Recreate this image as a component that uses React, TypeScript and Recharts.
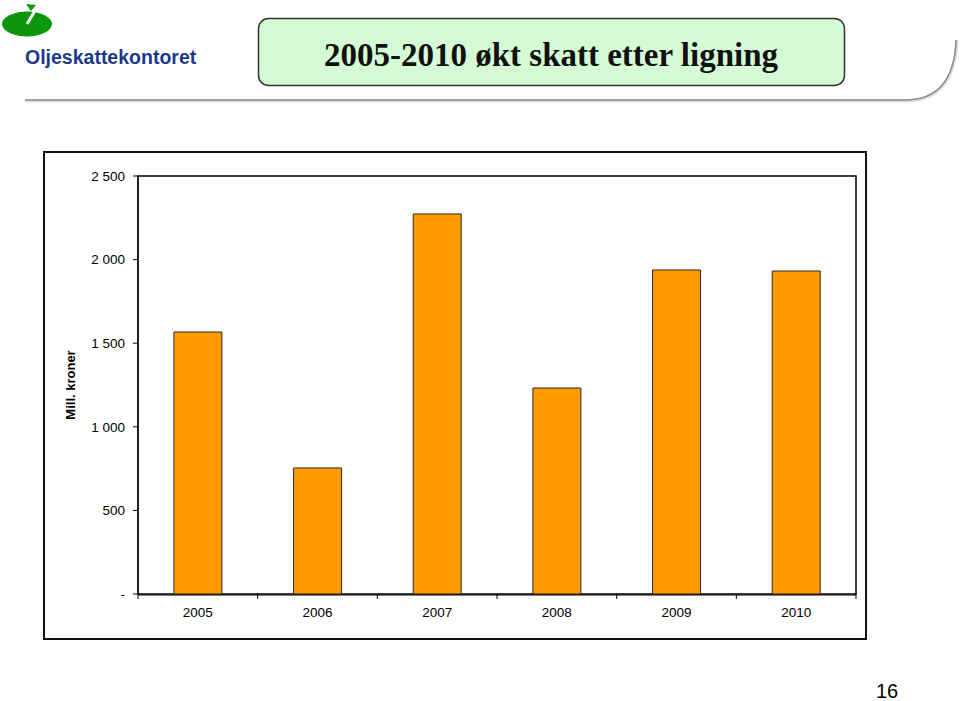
import React from 'react';
import {
  BarChart,
  Bar,
  XAxis,
  YAxis,
  ReferenceArea,
} from 'recharts';

const years = ['2005', '2006', '2007', '2008', '2009', '2010'];
const taxIncrease = [1567, 754, 2273, 1232, 1938, 1932];
const yTicks = [0, 500, 1000, 1500, 2000, 2500];
const bandTicks = [0, 1, 2, 3, 4, 5, 6];

const data = years.map((year, i) => ({ year, value: taxIncrease[i] }));

const fmt = (v: number) =>
  v === 0 ? '-' : String(v).replace(/\B(?=(\d{3})+(?!\d))/g, ' ');

const axisFont = { fontFamily: 'Arial, "Liberation Sans", sans-serif', fontSize: 13.5, fill: '#000' };

const NoLabel = () => <g />;

export default function App() {
  return (
    <div
      style={{
        position: 'absolute',
        left: 0,
        top: 0,
        width: 960,
        height: 701,
        background: '#fff',
        overflow: 'hidden',
      }}
    >
      {/* header decoration */}
      <svg width={960} height={701} style={{ position: 'absolute', left: 0, top: 0 }}>
        <ellipse cx={27} cy={24} rx={25} ry={12.5} fill="#0b960b" />
        <polygon points="26,4 36,5 31,11" fill="#0b960b" />
        <line x1={27} y1={24} x2={36} y2={9} stroke="#fff" strokeWidth={3} />
        <path d="M25,101 L905,101 Q955,101 957,40" fill="none" stroke="#ddd" strokeWidth={3} />
        <path d="M25,100 L905,100 Q954,100 956,40" fill="none" stroke="#8a8a8a" strokeWidth={1.5} />
        <rect x={258.5} y={18.5} width={586} height={67} rx={10} fill="#d5fbd5" stroke="#333" strokeWidth={1.5} />
        <text
          x={551}
          y={66}
          textAnchor="middle"
          fontFamily='"Liberation Serif", "Times New Roman", serif'
          fontWeight="bold"
          fontSize={33}
          fill="#111"
        >
          2005-2010 økt skatt etter ligning
        </text>
        <text
          x={25}
          y={64}
          fontFamily='Arial, "Liberation Sans", sans-serif'
          fontWeight="bold"
          fontSize={19.5}
          fill="#1c3a8c"
        >
          Oljeskattekontoret
        </text>
        <text x={876} y={698} fontFamily='Arial, "Liberation Sans", sans-serif' fontSize={20} fill="#000">
          16
        </text>
      </svg>

      <div
        style={{
          position: 'absolute',
          left: 43,
          top: 151,
          width: 820,
          height: 485,
          border: '2px solid #111',
          background: '#fff',
        }}
      >
        <BarChart
          width={820}
          height={485}
          data={data}
          margin={{ top: 23, right: 9, bottom: 0, left: 0 }}
          barCategoryGap="30%"
        >
          <XAxis
            xAxisId="a"
            type="number"
            dataKey="value"
            domain={[0, 6]}
            ticks={bandTicks}
            tick={NoLabel}
            tickSize={5}
            axisLine={false}
            tickLine={{ stroke: '#000' }}
            stroke="#000"
            height={1}
            allowDataOverflow
          />
          <XAxis
            xAxisId="b"
            dataKey="year"
            tickLine={false}
            axisLine={{ stroke: '#000' }}
            tick={axisFont}
            tickMargin={6}
            height={43}
          />
          <YAxis
            domain={[0, 2500]}
            ticks={yTicks}
            tickFormatter={fmt}
            tick={axisFont}
            tickSize={5}
            tickMargin={8}
            stroke="#000"
            width={93}
            label={{
              value: 'Mill. kroner',
              angle: -90,
              position: 'center',
              dx: -21,
              style: {
                fontFamily: 'Arial, "Liberation Sans", sans-serif',
                fontWeight: 'bold',
                fontSize: 13,
                fill: '#000',
              },
            }}
          />
          <ReferenceArea
            xAxisId="a"
            x1={0}
            x2={6}
            y1={0}
            y2={2500}
            fill="none"
            stroke="#000"
            strokeWidth={1.5}
          />
          <Bar
            xAxisId="b"
            dataKey="value"
            fill="#ff9900"
            stroke="#2a2a2a"
            strokeWidth={1}
            isAnimationActive={false}
          />
        </BarChart>
      </div>
    </div>
  );
}
